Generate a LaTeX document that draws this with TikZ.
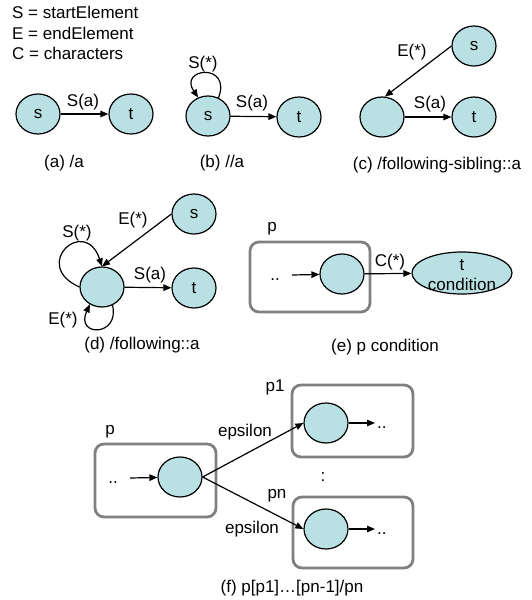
\documentclass[tikz,border=0pt]{standalone}
\usepackage{fontspec}
\setmainfont{Liberation Sans}
\usetikzlibrary{shapes.geometric,arrows.meta}
\definecolor{stfill}{RGB}{185,225,228}
\definecolor{boxgray}{RGB}{128,128,128}
\tikzset{
  st/.style={ellipse, draw, line width=1.2pt, fill=stfill, minimum width=44pt,
             minimum height=40pt, inner sep=0pt},
  arr/.style={-{Triangle[length=8pt,width=6.5pt]}, line width=1.2pt},
  grp/.style={draw=boxgray, line width=2.8pt, rounded corners=9pt},
  txt/.style={inner sep=0pt},
}
\begin{document}
\begin{tikzpicture}[x=1pt,y=-1pt,font=\fontsize{17}{20.5}\selectfont]
\useasboundingbox (0,0) rectangle (531,600);

% legend
\node[txt, anchor=north west, align=left] (legend) at (12,6)
  {S = startElement\\E = endElement\\C = characters};

% (a) /a
\node[st] (sA) at (38,114) {s};
\node[st] (tA) at (131,114) {t};
\draw[arr] (sA) -- (tA);
\node[txt] (lA) at (83,102) {S(a)};
\node[txt] (capA) at (64,163) {(a) /a};

% (b) //a
\node[st] (sB) at (208,116) {s};
\node[st] (tB) at (299,117) {t};
\draw[arr] (sB) -- (tB);
\draw[arr] (sB.60) .. controls (232,62) and (178,68) .. (sB.118);
\node[txt] (lB1) at (203,64) {S(*)};
\node[txt] (lB2) at (252,103) {S(a)};
\node[txt] (capB) at (222,163) {(b) //a};

% (c) /following-sibling::a
\node[st] (cC) at (382,117) {};
\node[st] (tC) at (474,117) {t};
\node[st] (sC) at (474,46) {s};
\draw[arr] (sC.west) -- (cC.82);
\draw[arr] (cC) -- (tC);
\node[txt] (lC1) at (412,52) {E(*)};
\node[txt] (lC2) at (430,104) {S(a)};
\node[txt] (capC) at (437,165) {(c) /following-sibling::a};

% (d) /following::a
\node[st] (cD) at (102,287) {};
\node[st] (tD) at (194,288) {t};
\node[st] (sD) at (194,214) {s};
\draw[arr] (sD.west) -- (cD.north);
\draw[arr] (cD) -- (tD);
\draw[arr] (cD.west) .. controls (30,265) and (85,215) .. (cD.north);
\draw[arr] (cD.300) .. controls (120,337) and (75,337) .. (cD.235);
\node[txt] (lD1) at (133,220) {E(*)};
\node[txt] (lD2) at (77,233) {S(*)};
\node[txt] (lD3) at (150,275) {S(a)};
\node[txt] (lD4) at (63,320) {E(*)};
\node[txt] (capD) at (142,345) {(d) /following::a};

% (e) p condition
\draw[grp] (250,242) rectangle (370,312);
\node[txt] (pE) at (272,229) {p};
\node[txt, anchor=base] (dotsE) at (275,280) {..};
\coordinate (inE) at (292,275);
\node[st] (cE) at (342,274) {};
\node[ellipse, draw, line width=1.2pt, fill=stfill, minimum width=100pt,
      minimum height=42pt, inner sep=0pt] (tE) at (462,273) {};
\node[txt, align=center] (tEl) at (462,275) {t\\condition};
\draw[arr] (inE) -- (cE);
\draw[arr] (cE) -- (tE);
\node[txt] (lE) at (390,262) {C(*)};
\node[txt] (capE) at (385,347) {(e) p condition};

% (f) p[p1]...[pn-1]/pn
\draw[grp] (95,444) rectangle (216,517);
\draw[grp] (292,385) rectangle (413,457);
\draw[grp] (293,497) rectangle (413,568);
\node[txt] (pF) at (110,432) {p};
\node[txt] (p1F) at (275,387) {p1};
\node[txt] (pnF) at (277,496) {pn};
\node[txt, anchor=base] (dotsF) at (113,483) {..};
\coordinate (inF) at (130,478);
\node[st] (cF) at (180,477) {};
\node[st] (c1F) at (326,423) {};
\node[st] (cnF) at (326,529) {};
\coordinate (o1F) at (375,423);
\coordinate (onF) at (375,529);
\node[txt, anchor=base west] (d1F) at (377,428) {..};
\node[txt, anchor=base west] (dnF) at (377,534) {..};
\node[txt, anchor=base] (vdots) at (323,481) {:};
\draw[arr] (inF) -- (cF);
\draw[arr] (cF.east) -- (c1F.west);
\draw[arr] (cF.east) -- (cnF.west);
\draw[arr] (c1F) -- (o1F);
\draw[arr] (cnF) -- (onF);
\node[txt] (e1F) at (245,432) {epsilon};
\node[txt] (enF) at (252,529) {epsilon};
\node[txt] (capF) at (292,588) {(f) p[p1]\ldots[pn-1]/pn};
\end{tikzpicture}
\end{document}
